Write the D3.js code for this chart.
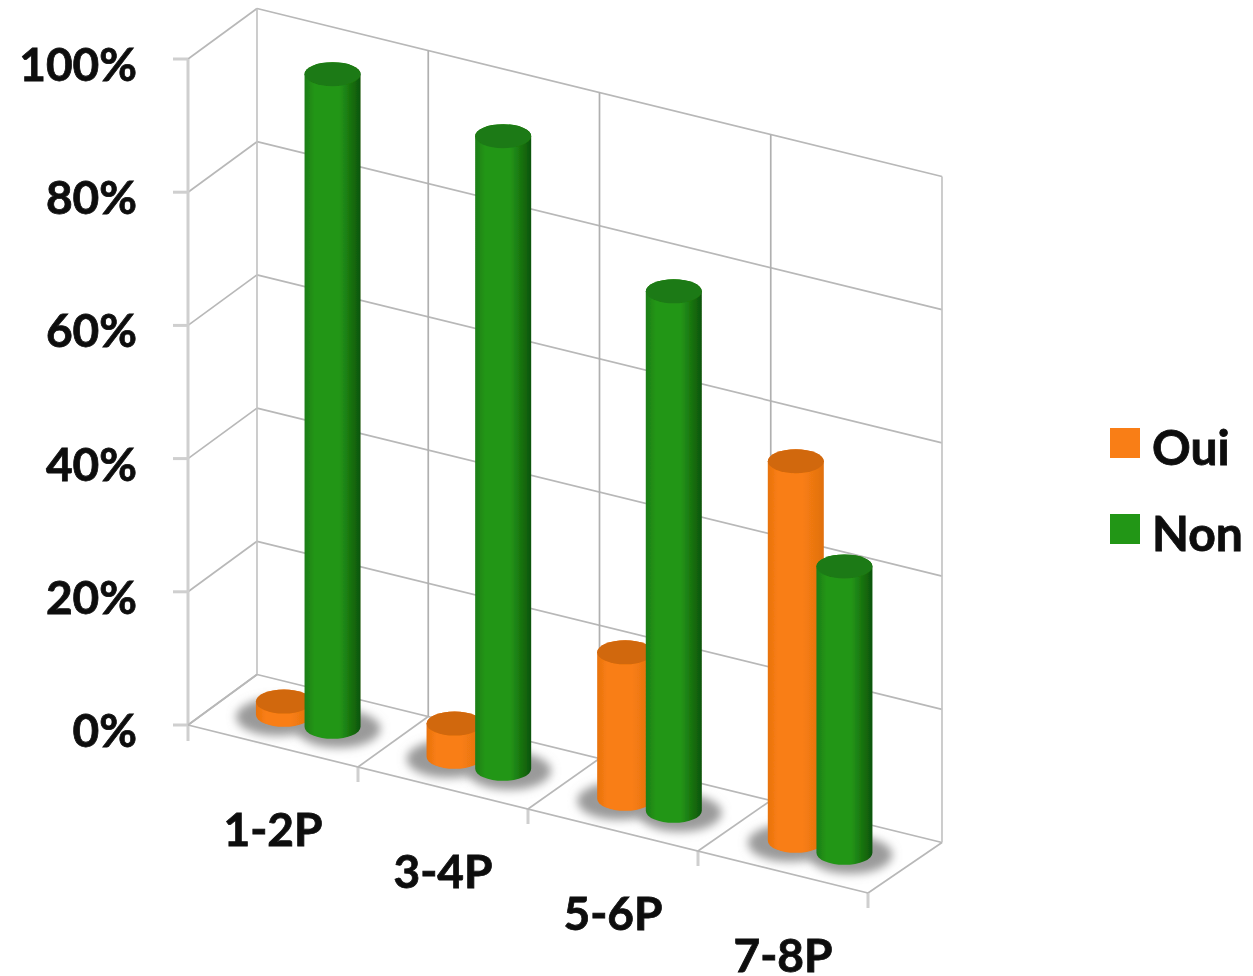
<!DOCTYPE html>
<html>
<head>
<meta charset="utf-8">
<title>Oui / Non</title>
<script src="https://cdn.jsdelivr.net/npm/d3@7"></script>
<style>
  html, body { margin: 0; padding: 0; background: #fff; }
  text { font-family: Lato, Carlito, sans-serif; font-weight: 700; fill: #0a0a0a; stroke: #0a0a0a; stroke-width: 0.8; }
</style>
</head>
<body>
<div id="chart"></div>
<script>
const categories = ["1-2P", "3-4P", "5-6P", "7-8P"];
const seriesNames = ["Oui", "Non"];
const oui = [2, 5, 22, 57];
const non = [98, 95, 78, 43];
const tickValues = [0, 20, 40, 60, 80, 100];

const width = 1253, height = 976;
const colors = {
  Oui: { edge: "#e8720f", mid: "#f97e13", dark: "#e0700f", top: "#d1680f" },
  Non: { edge: "#1b7d14", mid: "#249618", dark: "#0d5408", top: "#1d7a12" }
};

const svg = d3.select("#chart").append("svg")
  .attr("width", width).attr("height", height)
  .style("display", "block");
const defs = svg.append("defs");

// the picture is a slightly soft screenshot
defs.append("filter").attr("id", "soft")
  .append("feGaussianBlur").attr("stdDeviation", 0.6);
defs.append("filter").attr("id", "shadowBlur")
  .attr("x", "-40%").attr("y", "-60%").attr("width", "180%").attr("height", "220%")
  .append("feGaussianBlur").attr("stdDeviation", 5);

seriesNames.forEach(s => {
  const g = defs.append("linearGradient").attr("id", "side" + s);
  [[0, colors[s].edge], [0.18, colors[s].mid], [0.62, colors[s].mid], [1, colors[s].dark]]
    .forEach(st => g.append("stop").attr("offset", st[0]).attr("stop-color", st[1]));
});

// scales: category position along the floor, series inside a category, value up the wall
const x = d3.scaleBand().domain(categories).range([0, 4]);
const inner = d3.scaleBand().domain(seriesNames).range([0.2175, 0.7875]);
const y = d3.scaleLinear().domain([0, 100]).range([0, 666]);

// oblique projection of (along, depth, value) to the page
function project(c, d, v) {
  return [188 + c * 170 + d * (69 + 1.25 * c), 725 + c * 42 - d * 50.5 - y(v)];
}
function line(a, b) {
  return "M" + a[0] + "," + a[1] + "L" + b[0] + "," + b[1];
}

const root = svg.append("g").attr("filter", "url(#soft)");
const grid = root.append("g").attr("fill", "none").attr("stroke", "#b8b8b8").attr("stroke-width", 1.7);

// walls: value lines on the left and back walls, with ticks
tickValues.forEach(v => {
  grid.append("path").attr("d", line(project(0, 0, v), project(0, 1, v)));
  grid.append("path").attr("d", line(project(0, 1, v), project(4, 1, v)));
  const p = project(0, 0, v);
  grid.append("path").attr("stroke", "#cfcfcf").attr("stroke-width", 3)
    .attr("d", line([p[0] - 15, p[1]], p));
});
grid.append("path").attr("stroke", "#cfcfcf").attr("stroke-width", 3)
  .attr("d", line(project(0, 0, 100), [188, 741]));

// verticals on the back wall and lines across the floor
d3.range(0, 5).forEach(c => {
  grid.append("path").attr("stroke", c === 0 || c === 4 ? "#c4c4c4" : "#b0b0b0")
    .attr("d", line(project(c, 1, 0), project(c, 1, 100)));
  grid.append("path").attr("d", line(project(c, 0, 0), project(c, 1, 0)));
  if (c > 0) {
    const p = project(c, 0, 0);
    grid.append("path").attr("stroke", "#cfcfcf").attr("stroke-width", 3)
      .attr("d", line(p, [p[0], p[1] + 15]));
  }
});
grid.append("path").attr("d", line(project(0, 0, 0), project(4, 0, 0)));

const rows = categories.flatMap((cat, i) => [
  { cat: cat, s: "Oui", v: oui[i] },
  { cat: cat, s: "Non", v: non[i] }
]);
const rx = 28, ry = 12;
function centre(d) {
  return x(d.cat) + inner(d.s) + inner.bandwidth() / 2;
}

// soft shadows on the floor, under every bar
root.append("g").selectAll("ellipse").data(rows).enter().append("ellipse")
  .attr("cx", d => project(centre(d), 0.5, 0)[0] + (d.s === "Oui" ? -6 : 6))
  .attr("cy", d => project(centre(d), 0.5, 0)[1] + 2)
  .attr("rx", rx + 14).attr("ry", ry + 7)
  .attr("fill", "#9a9a9a")
  .attr("filter", "url(#shadowBlur)");

// cylinders
const bars = root.append("g").selectAll("g").data(rows).enter().append("g");
bars.append("path")
  .attr("fill", d => "url(#side" + d.s + ")")
  .attr("d", d => {
    const b = project(centre(d), 0.5, 0), t = project(centre(d), 0.5, d.v);
    return "M" + (b[0] - rx) + "," + b[1] +
      "A" + rx + "," + ry + " 0 0 0 " + (b[0] + rx) + "," + b[1] +
      "L" + (t[0] + rx) + "," + t[1] +
      "A" + rx + "," + ry + " 0 0 0 " + (t[0] - rx) + "," + t[1] + "Z";
  });
bars.append("ellipse")
  .attr("cx", d => project(centre(d), 0.5, d.v)[0])
  .attr("cy", d => project(centre(d), 0.5, d.v)[1])
  .attr("rx", rx).attr("ry", ry)
  .attr("fill", d => colors[d.s].top);

// value labels
root.append("g").selectAll("text").data(tickValues).enter().append("text")
  .attr("x", 137)
  .attr("y", d => project(0, 0, d)[1] + 22)
  .attr("text-anchor", "end")
  .attr("font-size", 46)
  .text(d => d + "%");

// category labels
root.append("g").selectAll("text").data(categories).enter().append("text")
  .attr("x", d => project(x(d) + x.bandwidth() / 2, 0, 0)[0])
  .attr("y", d => project(x(d) + x.bandwidth() / 2, 0, 0)[1] + 100)
  .attr("text-anchor", "middle")
  .attr("font-size", 46)
  .text(d => d);

// legend
const legendY = d3.scalePoint().domain(seriesNames).range([443, 529]);
const legend = root.append("g").selectAll("g").data(seriesNames).enter().append("g");
legend.append("rect")
  .attr("x", 1110).attr("y", d => legendY(d) - 15)
  .attr("width", 30).attr("height", 30)
  .attr("fill", d => colors[d].mid);
legend.append("text")
  .attr("x", 1152).attr("y", d => legendY(d) + 22)
  .attr("font-size", 48)
  .text(d => d);
</script>
</body>
</html>
